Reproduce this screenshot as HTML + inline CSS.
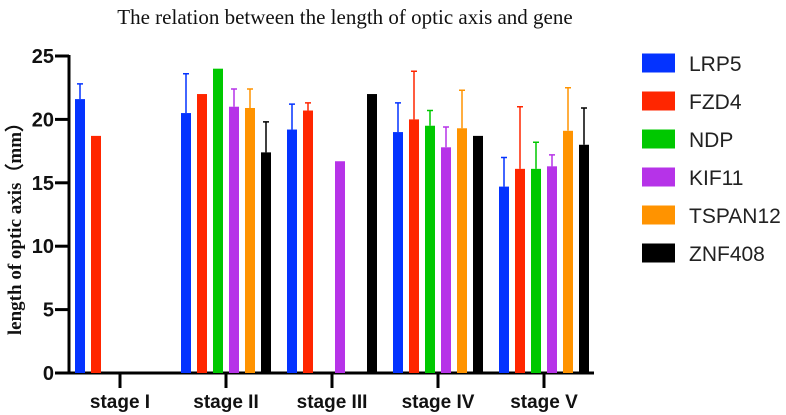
<!DOCTYPE html>
<html><head><meta charset="utf-8"><style>
body{margin:0;background:#fff;width:786px;height:415px;overflow:hidden}
svg{display:block}
</style></head><body>
<svg id="chart" width="786" height="415">
<text x="345" y="24" text-anchor="middle" font-family="Liberation Serif, serif" font-size="21" fill="#111">The relation between the length of optic axis and gene</text>
<text transform="translate(21,224) rotate(-90)" text-anchor="middle" font-family="Liberation Serif, serif" font-weight="bold" font-size="19" fill="#111">length of optic axis（mm）</text>
<g id="axes"></g><g id="bars"></g><g id="legend"></g>
</svg>
<script>
const categories=["stage I","stage II","stage III","stage IV","stage V"];
const seriesNames=["LRP5","FZD4","NDP","KIF11","TSPAN12","ZNF408"];
const colors=["#0433ff","#ff2600","#00c800","#b633e8","#ff9300","#000000"];
const lrp5=[21.6,20.5,19.2,19.0,14.7];
const lrp5Err=[22.8,23.6,21.2,21.3,17.0];
const fzd4=[18.7,22.0,20.7,20.0,16.1];
const fzd4Err=[null,null,21.3,23.8,21.0];
const ndp=[null,24.0,null,19.5,16.1];
const ndpErr=[null,null,null,20.7,18.2];
const kif11=[null,21.0,16.7,17.8,16.3];
const kif11Err=[null,22.4,null,19.4,17.2];
const tspan12=[null,20.9,null,19.3,19.1];
const tspan12Err=[null,22.4,null,22.3,22.5];
const znf408=[null,17.4,22.0,18.7,18.0];
const znf408Err=[null,19.8,null,null,20.9];
const yTicks=[0,5,10,15,20,25];

const values=[lrp5,fzd4,ndp,kif11,tspan12,znf408];
const errs=[lrp5Err,fzd4Err,ndpErr,kif11Err,tspan12Err,znf408Err];
const NS="http://www.w3.org/2000/svg";
const x0=69,yBase=373,yTop=56,yMax=25;
const y=v=>yBase-(v/yMax)*(yBase-yTop);
const groupX=i=>120+i*106;
const barX=(g,s)=>groupX(g)+(s-2.5)*16;
function mk(tag,attrs,parent){const e=document.createElementNS(NS,tag);for(const k in attrs)e.setAttribute(k,attrs[k]);parent.appendChild(e);return e;}
const axes=document.getElementById('axes'),bars=document.getElementById('bars'),legend=document.getElementById('legend');
let yl=mk('line',{x1:x0,y1:y(25)-1,x2:x0,y2:yBase+1.5,stroke:'#000','stroke-width':3},axes);


let xl=mk('line',{x1:x0-1.5,y1:yBase,x2:594,y2:yBase,stroke:'#000','stroke-width':3},axes);


yTicks.forEach(t=>{
 mk('line',{x1:x0-14,y1:y(t),x2:x0,y2:y(t),stroke:'#000','stroke-width':3},axes);
 const tx=mk('text',{x:x0-15,y:y(t)+7,'text-anchor':'end','font-family':'Liberation Sans, sans-serif','font-weight':'bold','font-size':20,fill:'#111'},axes);
 tx.textContent=t;
 
 
});
categories.forEach((c,i)=>{
 mk('line',{x1:groupX(i),y1:yBase,x2:groupX(i),y2:yBase+15,stroke:'#000','stroke-width':3},axes);
 const tx=mk('text',{x:groupX(i),y:408,'text-anchor':'middle','font-family':'Liberation Sans, sans-serif','font-weight':'bold','font-size':19,fill:'#111'},axes);
 tx.textContent=c;
 
 
});
values.forEach((arr,s)=>{
 arr.forEach((v,g)=>{
  if(v==null)return;
  const cx=barX(g,s);
  const r=mk('rect',{x:cx-5,y:y(v),width:10,height:yBase-y(v),fill:colors[s]},bars);
  
  
  const e=errs[s][g];
  if(e!=null){
   const el=mk('path',{d:`M${cx} ${y(v)} V${y(e)} M${cx-3} ${y(e)} H${cx+3}`,stroke:colors[s],'stroke-width':1.5,fill:'none'},bars);
   
   
  }
 });
});
seriesNames.forEach((n,i)=>{
 const cy=63+i*38;
 const g=mk('g',{},legend);
 
 
 mk('rect',{x:642,y:cy-9.5,width:33,height:19,fill:colors[i]},g);
 const t=mk('text',{x:689,y:cy+8,'font-family':'Liberation Sans, sans-serif','font-size':21,fill:'#222'},g);
 t.textContent=n;
});
</script>
</body></html>
